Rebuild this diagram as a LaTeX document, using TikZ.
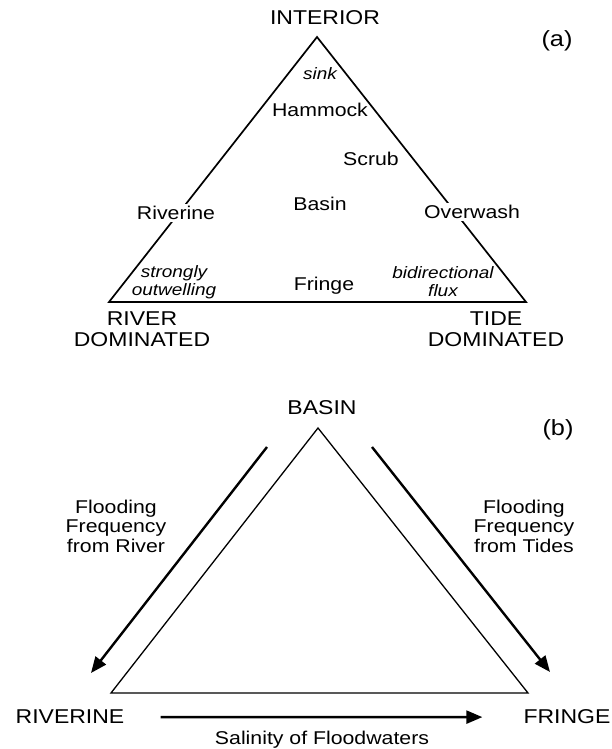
\documentclass[tikz,border=0pt]{standalone}
\usepackage{fontspec}
\setmainfont{Liberation Sans}[FakeStretch=1.15]
\usetikzlibrary{positioning,arrows.meta}
\tikzset{node distance=2cm, auto,
  lbl/.style={font=\fontsize{18.5}{19.5}\selectfont, align=center, inner sep=1pt},
  caps/.style={font=\fontsize{20}{21}\selectfont, align=center, inner sep=1pt},
  note/.style={font=\fontsize{16.5}{17.5}\selectfont\itshape, align=center, inner sep=1pt},
  panel/.style={font=\fontsize{22}{24}\selectfont, inner sep=1pt},
  flow/.style={line width=2.4pt, -{Triangle[length=16pt,width=13pt]}},
}

\begin{document}
\begin{tikzpicture}[x=1pt, y=1pt]
  \useasboundingbox (0,0) rectangle (612,749);

  % (a) the triangle of settings
  \coordinate (Top) at (317,712);
  \coordinate (RivC) at (109,447);
  \coordinate (TidC) at (526,447);
  \draw [line width=1.7pt] (RivC) -- (Top) -- (TidC) -- cycle;

  \node (Int) [caps, anchor=base] at (325,724) {INTERIOR};
  \node (a) [panel, anchor=base] at (557,702) {(a)};
  \node (sink) [note, anchor=base] at (320,669) {sink};
  \node (Ham) [lbl, anchor=base] at (320,632.5) {Hammock};
  \node (Scr) [lbl, anchor=base] at (371,583.5) {Scrub};
  \node (Bas) [lbl, anchor=base] at (320,538.5) {Basin};
  \node (Riv) [lbl, fill=white, inner sep=2pt] at (176,536) {Riverine};
  \node (Ovw) [lbl, fill=white, inner sep=2pt] at (472,537) {Overwash};
  \node (Fri) [lbl, anchor=base] at (324,458.5) {Fringe};
  \node (out) [note] at (174,467) {strongly\\outwelling};
  \node (bid) [note] at (443,467.5) {bidirectional\\flux};
  \node (RD) [caps] at (142,419.5) {RIVER\\DOMINATED};
  \node (TD) [caps] at (496,419.5) {TIDE\\DOMINATED};

  % (b) the three settings and their gradients
  \coordinate (B) at (318,321);
  \coordinate (R) at (111,56);
  \coordinate (F) at (528,56);
  \draw [line width=1.3pt] (R) -- (B) -- (F) -- cycle;

  \node (Basin) [caps, anchor=base] at (322,334) {BASIN};
  \node (b) [panel, anchor=base] at (558,313) {(b)};
  \node (Rv) [caps, anchor=base] at (70,25) {RIVERINE};
  \node (Fr) [caps, anchor=base] at (567,25) {FRINGE};

  \coordinate (rs) at (267,302);
  \coordinate (re) at (91,76);
  \coordinate (ts) at (372,302);
  \coordinate (te) at (550,77);
  \draw [flow] (rs) -- (re);
  \draw [flow] (ts) -- (te);
  \draw [flow, shorten <=35pt, shorten >=40pt] (Rv.east) -- (Fr.west);

  \node (fr) [lbl] at (116,223) {Flooding\\Frequency\\from River};
  \node (ft) [lbl] at (524,223) {Flooding\\Frequency\\from Tides};
  \node (sal) [lbl, anchor=base] at (322,4.5) {Salinity of Floodwaters};
\end{tikzpicture}
\end{document}
